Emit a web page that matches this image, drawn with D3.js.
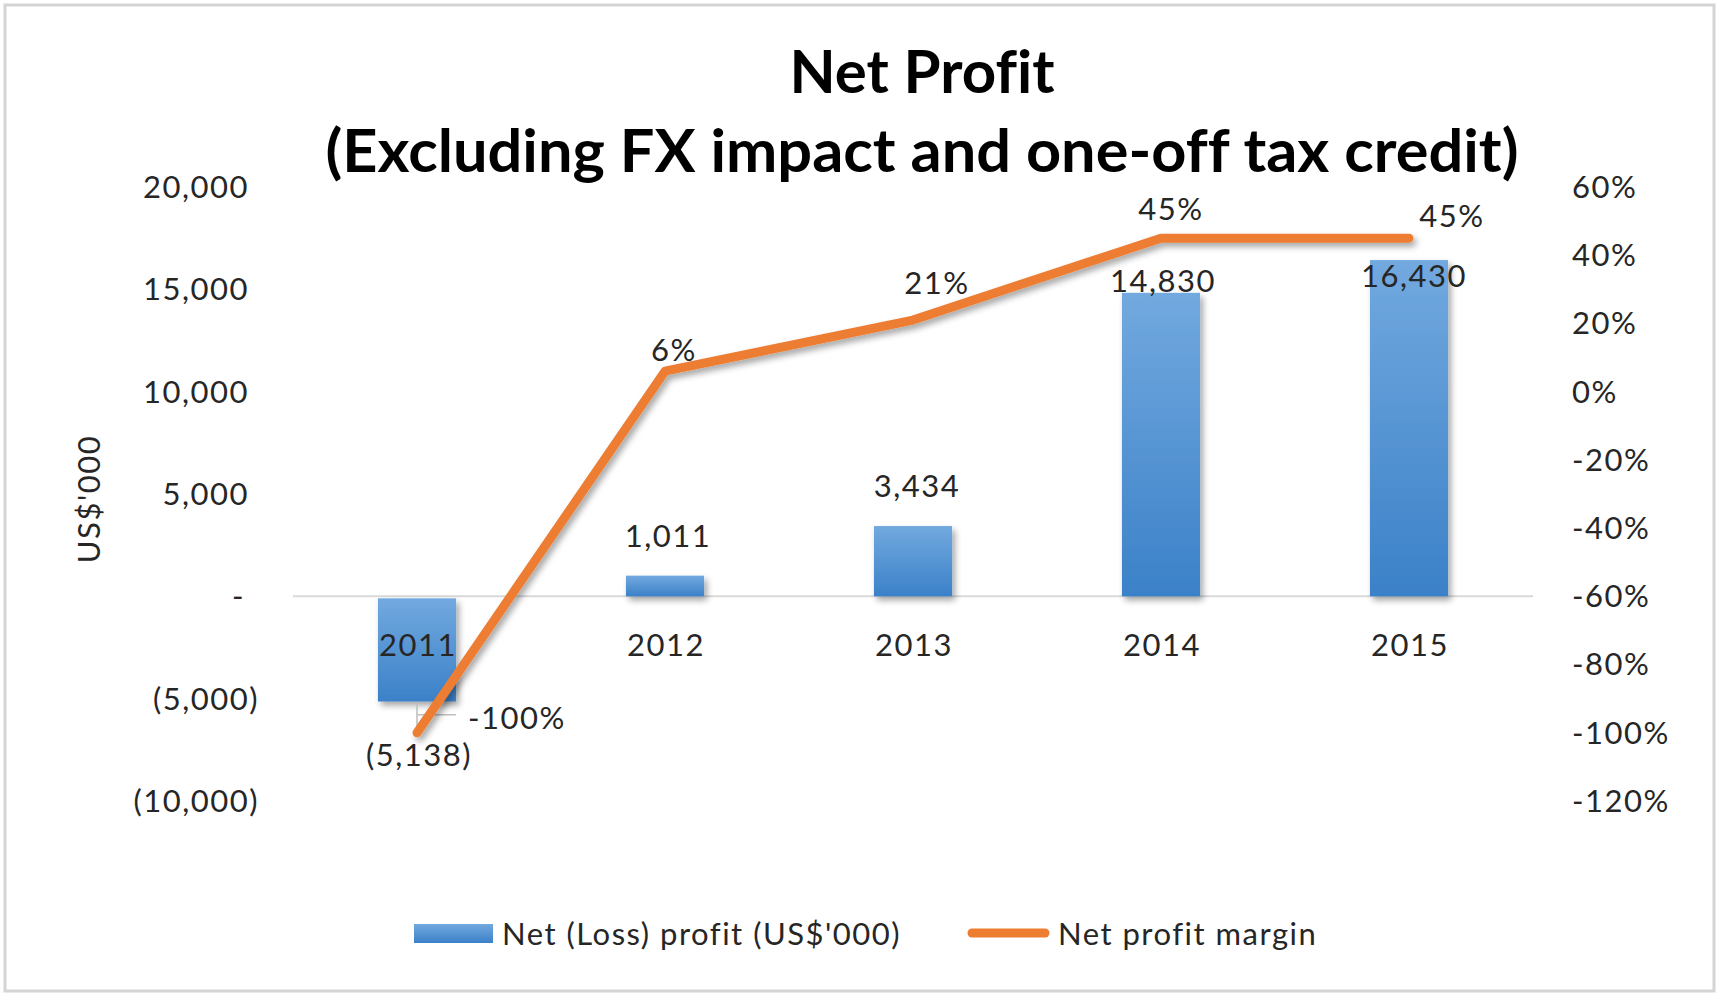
<!DOCTYPE html>
<html>
  <head>
    <meta charset="utf-8">
    <style>
      body { margin: 0; background: #fff; }
      text { font-family: Lato, "Open Sans", sans-serif; fill: #262626; font-variant-ligatures: none; }
      .lbl { letter-spacing: 1.5px; }
    </style>
  </head>
  <body>
    <div id="chart"></div>
  </body>
</html>

<script src="https://d3js.org/d3.v7.min.js"></script>

<script>

    // data
    var years = ["2011", "2012", "2013", "2014", "2015"]
    var netProfit = [-5138, 1011, 3434, 14830, 16430]
    var profitMargin = [-1.00, 0.06, 0.21, 0.45, 0.45]
    var leftTicks = [-10000, -5000, 0, 5000, 10000, 15000, 20000]
    var rightTicks = [-1.2, -1.0, -0.8, -0.6, -0.4, -0.2, 0, 0.2, 0.4, 0.6]

    // label nudges (px) so they sit where excel put them
    var barLabelDx = [2, 3, 4, 2, 5]
    var barLabelDy = [65, -29, -29, -1, 27]
    var lineLabelDx = [51, 9, 24, 10, 43]
    var lineLabelDy = [-4, -10, -26, -18, -11]

    var width = 1719
        height = 995

    var svg = d3.select("#chart")
      .append("svg")
        .attr("width", width)
        .attr("height", height)

    var defs = svg.append("defs")

    var grad = defs.append("linearGradient")
        .attr("id", "barGrad")
        .attr("x1", 0).attr("y1", 0).attr("x2", 0).attr("y2", 1)
    grad.append("stop").attr("offset", "0%").attr("stop-color", "#72a9df")
    grad.append("stop").attr("offset", "100%").attr("stop-color", "#3b81c8")

    var shadow = defs.append("filter")
        .attr("id", "shadow")
        .attr("filterUnits", "userSpaceOnUse")
        .attr("x", 0).attr("y", 0).attr("width", width).attr("height", height)
    shadow.append("feDropShadow")
        .attr("dx", 3).attr("dy", 4)
        .attr("stdDeviation", 3)
        .attr("flood-color", "#000")
        .attr("flood-opacity", 0.35)

    // chart border
    svg.append("rect")
        .attr("x", 5).attr("y", 5)
        .attr("width", 1709).attr("height", 986)
        .attr("fill", "none")
        .attr("stroke", "#d4d4d4")
        .attr("stroke-width", 3)

    // scales
    var x = d3.scaleBand()
        .domain(years)
        .range([293, 1533])
        .paddingInner(0.685)
        .paddingOuter(0.3425)

    var y = d3.scaleLinear()
        .domain([-10000, 20000])
        .range([801, 187])

    var y2 = d3.scaleLinear()
        .domain([-1.2, 0.6])
        .range([801, 187])

    var fmtNum = d3.format(",")
    function acct(v) {
        if (v == 0) return "-"
        if (v < 0) return "(" + fmtNum(-v) + ")"
        return fmtNum(v)
    }
    function pct(v) { return Math.round(v * 100) + "%" }
    function cx(i) { return x(years[i]) + x.bandwidth() / 2 }

    // title
    svg.append("text")
        .attr("x", 922).attr("y", 93)
        .attr("text-anchor", "middle")
        .attr("font-size", 60).attr("font-weight", "bold")
        .attr("textLength", 265).attr("lengthAdjust", "spacingAndGlyphs")
        .style("fill", "#000")
        .text("Net Profit")
    svg.append("text")
        .attr("x", 922).attr("y", 172)
        .attr("text-anchor", "middle")
        .attr("font-size", 60).attr("font-weight", "bold")
        .attr("textLength", 1193).attr("lengthAdjust", "spacingAndGlyphs")
        .style("fill", "#000")
        .text("(Excluding FX impact and one-off tax credit)")

    // left axis labels
    svg.append("g")
        .selectAll("text")
        .data(leftTicks)
        .enter()
        .append("text")
        .attr("class", "lbl")
        .attr("x", function(d) { return d < 0 ? 259 : (d == 0 ? 245 : 249) })
        .attr("y", function(d) { return y(d) })
        .attr("dy", "0.35em")
        .attr("text-anchor", "end")
        .attr("font-size", 31)
        .text(acct)

    // right axis labels
    svg.append("g")
        .selectAll("text")
        .data(rightTicks)
        .enter()
        .append("text")
        .attr("class", "lbl")
        .attr("x", 1572)
        .attr("y", function(d) { return y2(d) })
        .attr("dy", "0.35em")
        .attr("font-size", 31)
        .text(pct)

    // y axis title
    svg.append("text")
        .attr("class", "lbl")
        .attr("transform", "translate(100,499) rotate(-90)")
        .attr("text-anchor", "middle")
        .attr("font-size", 31)
        .text("US$'000")

    // zero line
    svg.append("line")
        .attr("x1", x.range()[0]).attr("x2", x.range()[1])
        .attr("y1", y(0)).attr("y2", y(0))
        .attr("stroke", "#d9d9d9")
        .attr("stroke-width", 2)

    // bars
    svg.append("g")
        .attr("filter", "url(#shadow)")
        .selectAll("rect")
        .data(netProfit)
        .enter()
        .append("rect")
        .attr("x", function(d, i) { return x(years[i]) })
        .attr("width", x.bandwidth())
        .attr("y", function(d) { return d >= 0 ? y(d) : y(0) + 2 })
        .attr("height", function(d) { return d >= 0 ? y(0) - y(d) : y(d) - y(0) - 2 })
        .attr("fill", "url(#barGrad)")

    // category labels
    svg.append("g")
        .selectAll("text")
        .data(years)
        .enter()
        .append("text")
        .attr("class", "lbl")
        .attr("x", function(d, i) { return cx(i) + 1 })
        .attr("y", 656)
        .attr("text-anchor", "middle")
        .attr("font-size", 31)
        .text(function(d) { return d })

    // leader line for the -100% label
    svg.append("path")
        .attr("d", "M" + (cx(0) + 39) + "," + (y2(profitMargin[0]) - 18) + "H" + cx(0)
            + "M" + cx(0) + "," + (y2(profitMargin[0]) - 30) + "V" + (y2(profitMargin[0]) - 4))
        .attr("fill", "none")
        .attr("stroke", "#bfbfbf")
        .attr("stroke-width", 1.5)

    // margin line
    var line = d3.line()
        .x(function(d, i) { return cx(i) })
        .y(function(d) { return y2(d) })

    svg.append("path")
        .datum(profitMargin)
        .attr("d", line)
        .attr("fill", "none")
        .attr("stroke", "#ed7d31")
        .attr("stroke-width", 9)
        .attr("stroke-linecap", "round")
        .attr("stroke-linejoin", "round")
        .attr("filter", "url(#shadow)")

    // bar value labels
    svg.append("g")
        .selectAll("text")
        .data(netProfit)
        .enter()
        .append("text")
        .attr("class", "lbl")
        .attr("x", function(d, i) { return cx(i) + barLabelDx[i] })
        .attr("y", function(d, i) { return y(d) + barLabelDy[i] })
        .attr("text-anchor", "middle")
        .attr("font-size", 31)
        .text(acct)

    // margin labels
    svg.append("g")
        .selectAll("text")
        .data(profitMargin)
        .enter()
        .append("text")
        .attr("class", "lbl")
        .attr("x", function(d, i) { return cx(i) + lineLabelDx[i] })
        .attr("y", function(d, i) { return y2(d) + lineLabelDy[i] })
        .attr("text-anchor", function(d, i) { return i == 0 ? "start" : "middle" })
        .attr("font-size", 31)
        .text(pct)

    // legend
    var legend = svg.append("g")
    legend.append("rect")
        .attr("x", 414).attr("y", 924)
        .attr("width", 79).attr("height", 19)
        .attr("fill", "url(#barGrad)")
    legend.append("text")
        .attr("class", "lbl")
        .attr("x", 502).attr("y", 945)
        .attr("font-size", 31)
        .text("Net (Loss) profit (US$'000)")
    legend.append("line")
        .attr("x1", 972).attr("x2", 1045)
        .attr("y1", 933).attr("y2", 933)
        .attr("stroke", "#ed7d31")
        .attr("stroke-width", 9)
        .attr("stroke-linecap", "round")
    legend.append("text")
        .attr("class", "lbl")
        .attr("x", 1058).attr("y", 945)
        .attr("font-size", 31)
        .text("Net profit margin")

</script>
